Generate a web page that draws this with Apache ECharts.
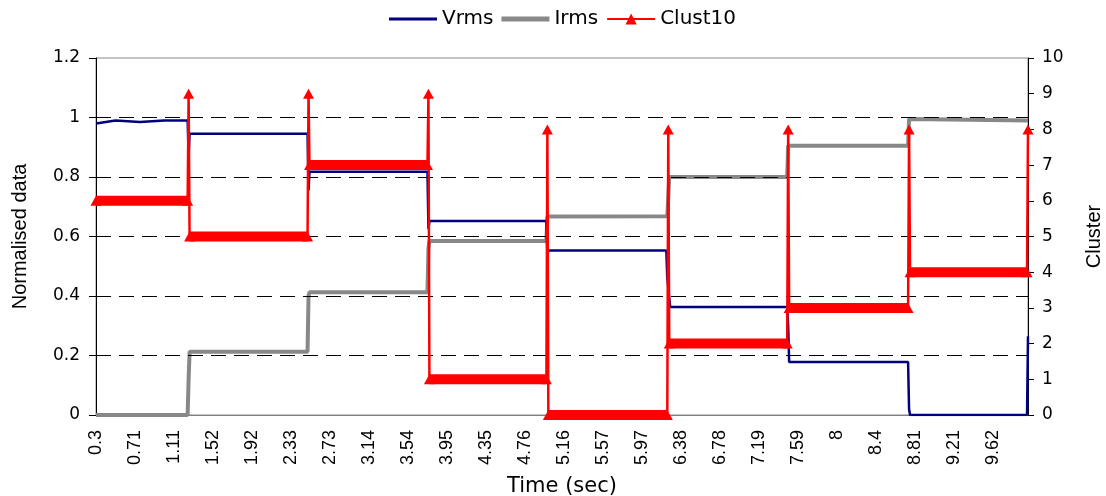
<!DOCTYPE html>
<html>
<head>
<meta charset="utf-8">
<script src="https://cdn.jsdelivr.net/npm/echarts@6/dist/echarts.min.js"></script>
<style>
  html, body { margin: 0; padding: 0; background: #fff; }
  #chart { width: 1106px; height: 496px; }
</style>
</head>
<body>
<div id="chart"></div>
<script>
// time axis tick labels, one every 40 samples
var timeLabels = ["0.3", "0.71", "1.11", "1.52", "1.92", "2.33", "2.73", "3.14",
  "3.54", "3.95", "4.35", "4.76", "5.16", "5.57", "5.97", "6.38", "6.78", "7.19",
  "7.59", "8", "8.4", "8.81", "9.21", "9.62"];
var samplesPerLabel = 40;
var lastSample = 956;

// Vrms corners [sample, value]
var vrmsPoints = [[0, 0.98], [20, 0.99], [45, 0.985], [70, 0.99], [94, 0.99], [95, 0.87],
  [96, 0.945], [217, 0.945], [218, 0.755], [219, 0.818], [340, 0.818], [341, 0.625],
  [342, 0.652], [462, 0.652], [463, 0.54], [464, 0.553], [585, 0.553], [586, 0.46],
  [588, 0.46], [589, 0.363], [709, 0.363], [710, 0.3], [711, 0.178], [833, 0.178],
  [834, 0.02], [835, 0], [955, 0], [956, 0.265]];

// Irms corners [sample, value]
var irmsPoints = [[0, 0], [94, 0], [95, 0.12], [96, 0.213], [217, 0.213], [218, 0.4],
  [219, 0.413], [340, 0.413], [341, 0.56], [342, 0.585], [462, 0.585], [463, 0.667],
  [586, 0.668], [587, 0.73], [588, 0.8], [709, 0.8], [710, 0.905], [833, 0.905],
  [834, 0.995], [835, 0.99], [956, 0.99]];

// Clust10: level held between transitions, one spike sample at each transition
var clustStart = [0, 96, 219, 342, 464, 588, 711, 835];
var clustEnd = [94, 217, 340, 462, 586, 709, 833, 955];
var clustLevel = [6, 5, 7, 1, 0, 2, 3, 4];
var spikeAt = [95, 218, 341, 463, 587, 710, 834, 956];
var spikeTop = [9, 9, 9, 8, 8, 8, 8, 8];

var gridValues = [0.2, 0.4, 0.6, 0.8, 1];

var clustLine = [];
var clustBand = [];
for (var k = 0; k < clustLevel.length; k++) {
  clustLine.push([clustStart[k], clustLevel[k]]);
  clustLine.push([clustEnd[k], clustLevel[k]]);
  clustLine.push([spikeAt[k], spikeTop[k]]);
  clustBand.push([clustStart[k], clustLevel[k]]);
  clustBand.push([clustEnd[k], clustLevel[k]]);
  clustBand.push([spikeAt[k], "-"]);
}

var horizFont = "DejaVu Sans";
var vertFont = "Liberation Sans";

var chart = echarts.init(document.getElementById("chart"));
var option = {
  animation: false,
  legend: {
    data: [
      { name: "Vrms", icon: "path://M0,0 L48,0 L48,3 L0,3 Z" },
      { name: "Irms", icon: "path://M0,0 L48,0 L48,5 L0,5 Z" },
      "Clust10"
    ],
    left: 384,
    top: 4,
    itemWidth: 48,
    itemHeight: 14,
    itemGap: 8,
    textStyle: { fontFamily: horizFont, fontSize: 20, color: "#000" }
  },
  grid: {
    left: 96, right: 78, top: 58, bottom: 81,
    show: true, borderColor: "#888", borderWidth: 1,
    containLabel: false, outerBoundsMode: "none"
  },
  xAxis: {
    type: "value",
    min: 0,
    max: lastSample,
    interval: samplesPerLabel,
    name: "Time (sec)",
    nameLocation: "middle",
    nameGap: 61,
    nameTextStyle: { fontFamily: horizFont, fontSize: 21, color: "#000" },
    axisLine: { lineStyle: { color: "#808080", width: 1 } },
    axisTick: { show: false },
    splitLine: { show: false },
    axisLabel: {
      rotate: 90,
      margin: 15,
      fontFamily: vertFont,
      fontSize: 18,
      color: "#000",
      formatter: function (v) {
        if (v % samplesPerLabel !== 0) return "";
        return timeLabels[v / samplesPerLabel] || "";
      }
    }
  },
  yAxis: [
    {
      type: "value",
      min: 0, max: 1.2, interval: 0.2,
      name: "Normalised data",
      nameLocation: "middle",
      nameGap: 66,
      nameTextStyle: { fontFamily: vertFont, fontSize: 20, color: "#000" },
      axisLine: { show: true, lineStyle: { color: "#000", width: 1 } },
      axisTick: { show: true, length: 7, lineStyle: { color: "#000" } },
      splitLine: { show: false },
      axisLabel: { fontFamily: horizFont, fontSize: 17, color: "#000", margin: 16 }
    },
    {
      type: "value",
      position: "right",
      min: 0, max: 10, interval: 1,
      name: "Cluster",
      nameLocation: "middle",
      nameGap: 56,
      nameTextStyle: { fontFamily: vertFont, fontSize: 20, color: "#000" },
      axisLine: { show: true, lineStyle: { color: "#000", width: 1 } },
      axisTick: { show: true, length: 6, lineStyle: { color: "#000" } },
      splitLine: { show: false },
      axisLabel: { fontFamily: horizFont, fontSize: 17, color: "#000", margin: 14 }
    }
  ],
  series: [
    {
      name: "Irms",
      type: "line",
      yAxisIndex: 0,
      data: irmsPoints,
      symbol: "none",
      lineStyle: { color: "#888888", width: 4 },
      itemStyle: { color: "#888888" },
      z: 2,
      markLine: {
        silent: true,
        symbol: "none",
        label: { show: false },
        lineStyle: { color: "#000", width: 1, type: [15, 8] },
        data: gridValues.map(function (g) { return { yAxis: g }; })
      }
    },
    {
      name: "Vrms",
      type: "line",
      yAxisIndex: 0,
      data: vrmsPoints,
      symbol: "none",
      lineStyle: { color: "#000080", width: 2.5 },
      itemStyle: { color: "#000080" },
      z: 3
    },
    {
      name: "band",
      type: "line",
      yAxisIndex: 1,
      data: clustBand,
      symbol: "none",
      connectNulls: false,
      lineStyle: { color: "#ff0000", width: 10, cap: "butt" },
      z: 4
    },
    {
      name: "Clust10",
      type: "line",
      yAxisIndex: 1,
      data: clustLine,
      symbol: "triangle",
      symbolSize: [11, 10],
      showAllSymbol: true,
      lineStyle: { color: "#ff0000", width: 2.5 },
      itemStyle: { color: "#ff0000" },
      z: 5
    }
  ]
};
chart.setOption(option);
</script>
</body>
</html>
